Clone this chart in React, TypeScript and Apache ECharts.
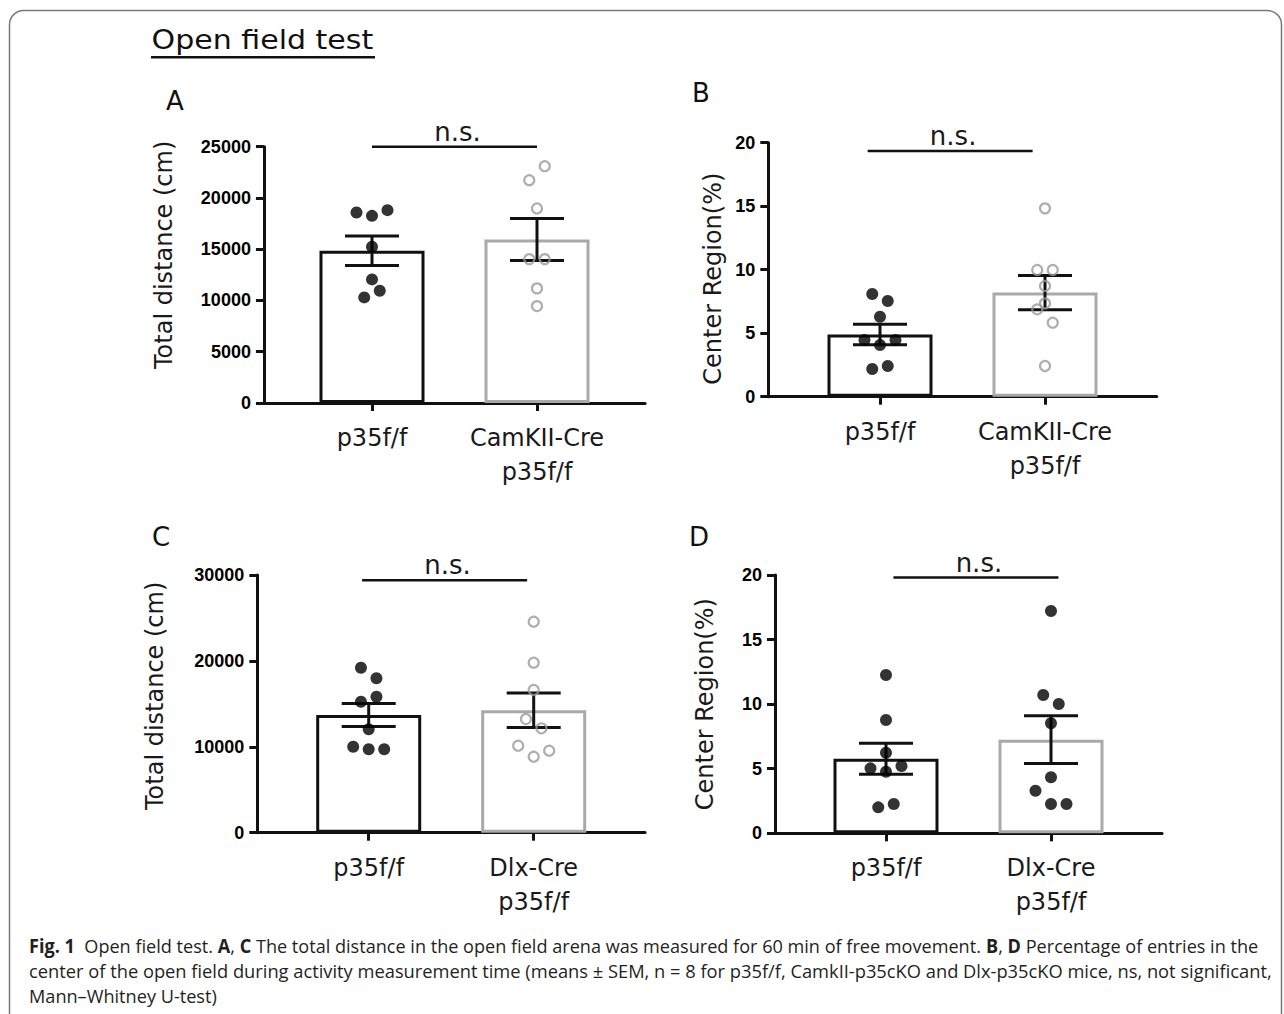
import React, { useEffect, useRef } from "react";
import * as echarts from "echarts";

// ---------- DATA ----------
// Panel A: total distance (cm), CamKII
const catsA = ["p35f/f", "CamKII-Cre\np35f/f"];
const meanA = [14850, 15950];
const semA = [1450, 2050];
const dotsA1 = [18587, 18255, 18811, 15234, 12056, 10302, 10946];
const dotsA2 = [21735, 23099, 18977, 14035, 14035, 11179, 9454];
const ticksA = [0, 5000, 10000, 15000, 20000, 25000];

// Panel B: center region (%), CamKII
const catsB = ["p35f/f", "CamKII-Cre\np35f/f"];
const meanB = [4.9, 8.2];
const semB = [0.8, 1.35];
const dotsB1 = [8.09, 7.54, 6.3, 4.46, 4.07, 4.46, 2.18, 2.42];
const dotsB2 = [14.83, 9.98, 9.98, 8.72, 7.35, 6.88, 5.83, 2.42];
const ticksB = [0, 5, 10, 15, 20];

// Panel C: total distance (cm), Dlx
const catsC = ["p35f/f", "Dlx-Cre\np35f/f"];
const meanC = [13700, 14250];
const semC = [1350, 2000];
const dotsC1 = [19209, 17974, 15250, 15832, 12037, 10012, 9709, 9709];
const dotsC2 = [24563, 19790, 16613, 13236, 12153, 10128, 8847, 9546];
const ticksC = [0, 10000, 20000, 30000];

// Panel D: center region (%), Dlx
const catsD = ["p35f/f", "Dlx-Cre\np35f/f"];
const meanD = [5.78, 7.25];
const semD = [1.2, 1.85];
const dotsD1 = [12.26, 8.77, 6.24, 5.03, 4.77, 5.21, 2.01, 2.27];
const dotsD2 = [17.21, 10.71, 10.01, 8.52, 4.34, 3.3, 2.27, 2.27];
const ticksD = [0, 5, 10, 15, 20];

const yTitles = ["Total distance (cm)", "Center Region(%)", "Total distance (cm)", "Center Region(%)"];
const sigLabels = ["n.s.", "n.s.", "n.s.", "n.s."];
const sigLevels = [25000, 19.35, 29400, 19.8];
const panelLetters = ["A", "B", "C", "D"];

const titleText = "Open field test";
const captionLines = [
  [
    { b: true, t: "Fig. 1" },
    { b: false, t: "  Open field test. " },
    { b: true, t: "A" },
    { b: false, t: ", " },
    { b: true, t: "C" },
    { b: false, t: " The total distance in the open field arena was measured for 60 min of free movement. " },
    { b: true, t: "B" },
    { b: false, t: ", " },
    { b: true, t: "D" },
    { b: false, t: " Percentage of entries in the" },
  ],
  [
    {
      b: false,
      t: "center of the open field during activity measurement time (means ± SEM, n = 8 for p35f/f, CamkII-p35cKO and Dlx-p35cKO mice, ns, not significant,",
    },
  ],
  [{ b: false, t: "Mann–Whitney U-test)" }],
];

// ---------- LAYOUT ----------
const UNIT = 165; // px per category step
const layouts = [
  { cat1X: 372, top: 146.7, bottom: 403, xMin: 0.345, nameGap: 88, namePad: [0, 0, 0, 40], sigShift: 0, lx: 175, ly: 101 },
  { cat1X: 880, top: 142.7, bottom: 396.7, xMin: 0.323, nameGap: 43, namePad: [0, 18, 0, 0], sigShift: -0.075, lx: 701, ly: 93 },
  { cat1X: 368.7, top: 575, bottom: 832.7, xMin: 0.325, nameGap: 90, namePad: [0, 0, 0, 16], sigShift: -0.04, lx: 161, ly: 537 },
  { cat1X: 886, top: 575, bottom: 833.3, xMin: 0.327, nameGap: 58, namePad: [0, 0, 0, 0], sigShift: 0.045, lx: 699, ly: 537 },
];
const capYs = [945, 970, 995.5];
const capWidths = [1229, 1243, 188];

const panels = [
  { cats: catsA, mean: meanA, sem: semA, d1: dotsA1, d2: dotsA2, ticks: ticksA, hollow2: true },
  { cats: catsB, mean: meanB, sem: semB, d1: dotsB1, d2: dotsB2, ticks: ticksB, hollow2: true },
  { cats: catsC, mean: meanC, sem: semC, d1: dotsC1, d2: dotsC2, ticks: ticksC, hollow2: true },
  { cats: catsD, mean: meanD, sem: semD, d1: dotsD1, d2: dotsD2, ticks: ticksD, hollow2: false },
];

// Prism-like column scatter: group values closer than threshold, centre each group.
function swarm(values: number[], cat: number, threshold: number, step: number) {
  const idx = values.map((_, i) => i).sort((a, b) => values[a] - values[b] || a - b);
  const groups: number[][] = [];
  let cur: number[] = [];
  for (const i of idx) {
    if (cur.length && values[i] - values[cur[0]] > threshold) {
      groups.push(cur);
      cur = [];
    }
    cur.push(i);
  }
  if (cur.length) groups.push(cur);
  const xs: number[] = new Array(values.length);
  for (const g of groups) {
    g.sort((a, b) => a - b);
    g.forEach((i, k) => {
      xs[i] = cat + (k - (g.length - 1) / 2) * step;
    });
  }
  return values.map((v, i) => [xs[i], v]);
}

function measure(text: string, font: string) {
  const c = document.createElement("canvas").getContext("2d")!;
  c.font = font;
  return c.measureText(text).width;
}

export default function App() {
  const ref = useRef<HTMLDivElement>(null);
  useEffect(() => {
    if (!ref.current) return;
    const chart = echarts.init(ref.current, null, { renderer: "svg" });

    const grid: any[] = [];
    const xAxis: any[] = [];
    const yAxis: any[] = [];
    const series: any[] = [];
    const axisColor = "#111";

    panels.forEach((p, i) => {
      const L = layouts[i];
      const xMax = 3 - L.xMin;
      const left = L.cat1X - (1 - L.xMin) * UNIT;
      const width = (xMax - L.xMin) * UNIT;
      const yMax = p.ticks[p.ticks.length - 1];
      const interval = p.ticks[1] - p.ticks[0];
      grid.push({ left, top: L.top, width, height: L.bottom - L.top, containLabel: false });
      xAxis.push({
        gridIndex: i,
        type: "value",
        min: L.xMin,
        max: xMax,
        axisLine: { show: true, onZero: false, lineStyle: { color: axisColor, width: 3 } },
        axisTick: { show: true, customValues: [1, 2], length: 8, lineStyle: { color: axisColor, width: 3 } },
        axisLabel: {
          customValues: [1, 2],
          formatter: (v: number) => (Math.round(v) === 1 ? p.cats[0] : p.cats[1]),
          margin: 18,
          fontFamily: "DejaVu Sans",
          fontSize: 24,
          lineHeight: 34,
          color: "#1a1a1a",
        },
        splitLine: { show: false },
      });
      yAxis.push({
        gridIndex: i,
        type: "value",
        min: 0,
        max: yMax,
        interval,
        axisLine: { show: true, lineStyle: { color: axisColor, width: 3 } },
        axisTick: { show: true, length: 8, lineStyle: { color: axisColor, width: 3 } },
        axisLabel: {
          margin: 13,
          fontFamily: "Liberation Sans",
          fontWeight: "bold",
          fontSize: 18,
          color: "#000",
          formatter: (v: number) => String(v),
        },
        splitLine: { show: false },
        name: yTitles[i],
        nameLocation: "middle",
        nameGap: L.nameGap,
        nameTextStyle: { fontFamily: "DejaVu Sans", fontSize: 24, color: "#1a1a1a", padding: L.namePad },
      });

      // bars
      series.push({
        type: "bar",
        xAxisIndex: i,
        yAxisIndex: i,
        barWidth: 105,
        z: 1,
        silent: true,
        data: p.mean.map((m, k) => ({
          value: [k + 1, m],
          itemStyle: { color: "#fff", borderColor: k === 0 ? "#111" : "#a9a9a9", borderWidth: 3 },
        })),
      });

      // error bars
      series.push({
        type: "custom",
        xAxisIndex: i,
        yAxisIndex: i,
        z: 2,
        silent: true,
        encode: { x: 0, y: 1 },
        data: p.mean.map((m, k) => [k + 1, m, p.sem[k]]),
        renderItem: (params: any, api: any) => {
          const x = api.value(0);
          const m = api.value(1);
          const s = api.value(2);
          const hi = api.coord([x, m + s]);
          const lo = api.coord([x, m - s]);
          const st = { stroke: "#111", lineWidth: 3 };
          return {
            type: "group",
            children: [
              { type: "line", shape: { x1: hi[0], y1: hi[1], x2: lo[0], y2: lo[1] }, style: st },
              { type: "line", shape: { x1: hi[0] - 27, y1: hi[1], x2: hi[0] + 27, y2: hi[1] }, style: st },
              { type: "line", shape: { x1: lo[0] - 27, y1: lo[1], x2: lo[0] + 27, y2: lo[1] }, style: st },
            ],
          };
        },
      });

      // dots
      const thr = 0.058 * yMax;
      const step = 15.5 / UNIT;
      series.push({
        type: "scatter",
        xAxisIndex: i,
        yAxisIndex: i,
        z: 3,
        silent: true,
        symbol: "circle",
        symbolSize: 12,
        itemStyle: { color: "#000" },
        data: swarm(p.d1, 1, thr, step),
      });
      series.push({
        type: "scatter",
        xAxisIndex: i,
        yAxisIndex: i,
        z: 3,
        silent: true,
        symbol: "circle",
        symbolSize: p.hollow2 ? 10 : 12,
        itemStyle: p.hollow2
          ? { color: "rgba(255,255,255,0)", borderColor: "#9a9a9a", borderWidth: 2.2 }
          : { color: "#000" },
        data: swarm(p.d2, 2, thr, step),
      });

      // significance bracket
      series.push({
        type: "custom",
        xAxisIndex: i,
        yAxisIndex: i,
        z: 2,
        silent: true,
        encode: { x: [0, 1], y: 2 },
        data: [[1 + L.sigShift, 2 + L.sigShift, sigLevels[i]]],
        renderItem: (params: any, api: any) => {
          const a = api.coord([api.value(0), api.value(2)]);
          const b = api.coord([api.value(1), api.value(2)]);
          return {
            type: "group",
            children: [
              { type: "line", shape: { x1: a[0], y1: a[1], x2: b[0], y2: b[1] }, style: { stroke: "#111", lineWidth: 2.5 } },
              {
                type: "text",
                style: {
                  text: sigLabels[i],
                  x: (a[0] + b[0]) / 2 + 3,
                  y: a[1] - 15,
                  fill: "#1a1a1a",
                  fontSize: 26,
                  fontFamily: "DejaVu Sans",
                  align: "center",
                  verticalAlign: "middle",
                },
              },
            ],
          };
        },
      });
    });

    // ---- graphic: border, title, letters, caption ----
    const capFontSize = 19;
    const capFam = '"Open Sans"';
    const lineWidthOf = (segs: { b: boolean; t: string }[]) =>
      segs.reduce(
        (acc, s) => acc + measure(s.t, `${s.b ? "bold " : ""}${capFontSize}px ${capFam}`),
        0
      );
    const capTexts = captionLines.map((segs, k) => ({
      type: "text",
      x: 29,
      y: capYs[k],
      scaleX: capWidths[k] / lineWidthOf(segs),
      silent: true,
      style: {
        text: segs.map((s) => (s.b ? `{b|${s.t}}` : s.t)).join(""),
        fontSize: capFontSize,
        fontFamily: "Open Sans",
        fill: "#231f20",
        verticalAlign: "middle",
        rich: {
          b: { fontWeight: "bold", fontSize: capFontSize, fontFamily: "Open Sans", fill: "#231f20" },
        },
      },
    }));

    const titleScale = 222 / measure(titleText, '27px "DejaVu Sans"');

    const graphic: any[] = [
      {
        type: "rect",
        silent: true,
        shape: { x: 9.5, y: 10.5, width: 1272, height: 1040, r: 14 },
        style: { fill: "none", stroke: "#7a7a7a", lineWidth: 1.5 },
      },
      {
        type: "text",
        x: 151.5,
        y: 40,
        scaleX: titleScale,
        silent: true,
        style: { text: titleText, fontSize: 27, fontFamily: "DejaVu Sans", fill: "#111", verticalAlign: "middle" },
      },
      {
        type: "line",
        silent: true,
        shape: { x1: 151, y1: 57.3, x2: 375, y2: 57.3 },
        style: { stroke: "#111", lineWidth: 2.5 },
      },
      ...layouts.map((L, i) => ({
        type: "text",
        x: L.lx,
        y: L.ly,
        silent: true,
        style: {
          text: panelLetters[i],
          fontSize: 26,
          fontFamily: "DejaVu Sans",
          fill: "#111",
          align: "center",
          verticalAlign: "middle",
        },
      })),
      ...capTexts,
    ];

    chart.setOption({
      animation: false,
      backgroundColor: "#fff",
      grid,
      xAxis,
      yAxis,
      series,
      graphic,
    });
    return () => chart.dispose();
  }, []);

  return (
    <div
      ref={ref}
      style={{ position: "absolute", left: 0, top: 0, width: 1284, height: 1014, background: "#fff" }}
    />
  );
}
